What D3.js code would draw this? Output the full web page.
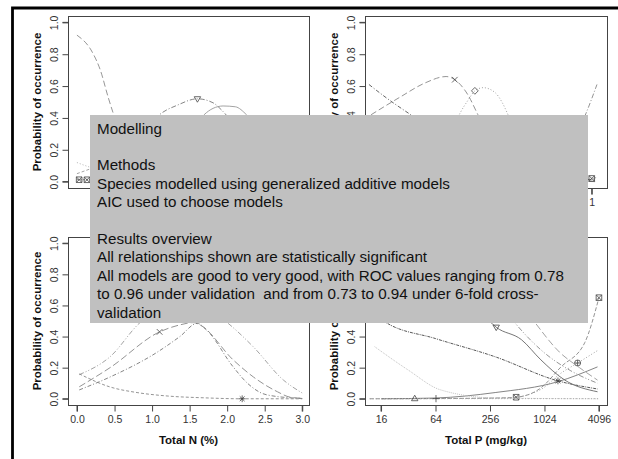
<!DOCTYPE html>
<html>
<head>
<meta charset="utf-8">
<script src="https://cdn.jsdelivr.net/npm/d3@7/dist/d3.min.js"></script>
<style>
  html, body { margin: 0; padding: 0; background: #fff; }
  svg { display: block; font-family: "Liberation Sans", Arial, sans-serif; }
</style>
</head>
<body>
<svg id="chart" width="618" height="459"></svg>
<script>
// ---- values ----
const probTicks = [0, 0.2, 0.4, 0.6, 0.8, 1.0];
const nTicks = [0, 0.5, 1, 1.5, 2, 2.5, 3];
const pTicks = [16, 64, 256, 1024, 4096];
const topRightTicks = [-4, -3, -2, -1, 0, 1];

// top-left panel (x axis hidden by the overlay)
const tlDecline = [[0, 0.92], [7, 0.81], [10.5, 0.70], [14, 0.53], [16.5, 0.42], [22, 0.24], [30, 0.12], [45, 0.05], [70, 0.02], [100, 0.01]];
const tlHumpA = [[20, 0.16], [30, 0.31], [37, 0.42], [45, 0.48], [54, 0.52], [61, 0.495], [65.5, 0.44], [75, 0.27], [85, 0.12], [100, 0.03]];
const tlHumpB = [[35, 0.05], [45, 0.18], [52, 0.33], [57, 0.42], [61, 0.46], [65.5, 0.475], [71, 0.47], [76, 0.42], [85, 0.25], [95, 0.1], [100, 0.06]];
const tlLowA = [[0, 0.12], [6, 0.09], [15, 0.06], [30, 0.04], [60, 0.02], [100, 0.01]];
const tlLowB = [[0, 0.05], [6, 0.08], [14, 0.12], [25, 0.15], [40, 0.12], [60, 0.06], [100, 0.02]];
const tlFlat = [[0, 0.012], [30, 0.01], [60, 0.008], [100, 0.006]];

// top-right panel
const trDecline = [[-4.11, 0.61], [-3.63, 0.51], [-3.15, 0.42], [-2, 0.22], [-1, 0.1], [0, 0.04], [1.1, 0.01]];
const trHumpX = [[-4.06, 0.42], [-3.4, 0.53], [-2.82, 0.62], [-2.34, 0.66], [-2.14, 0.64], [-1.84, 0.545], [-1.61, 0.42], [-1.2, 0.2], [-0.6, 0.06], [0.2, 0.01], [1.1, 0]];
const trHumpD = [[-2.6, 0.1], [-2.3, 0.25], [-2.02, 0.43], [-1.84, 0.51], [-1.68, 0.57], [-1.49, 0.59], [-1.22, 0.56], [-1.06, 0.5], [-0.92, 0.42], [-0.6, 0.2], [-0.2, 0.06], [0.5, 0.01], [1.1, 0]];
const trRise = [[-1, 0.01], [0, 0.08], [0.5, 0.22], [0.87, 0.43], [1.12, 0.61]];
const trLow = [[-4.1, 0.0], [0, 0.004], [0.8, 0.01], [1.1, 0.025]];

// bottom-left panel: Total N (%)
const nWide = [[0.03, 0.155], [0.44, 0.27], [0.84, 0.49], [1.2, 0.6], [1.6, 0.62], [2.0, 0.49], [2.35, 0.333], [2.75, 0.12], [3.0, 0.037]];
const nHumpX = [[0.03, 0.077], [0.44, 0.2], [1.1, 0.43], [1.37, 0.475], [1.55, 0.49], [1.64, 0.474], [2.08, 0.25], [2.35, 0.14], [2.67, 0.045], [2.84, 0.01], [3.0, 0.003]];
const nHumpSteep = [[0.03, 0.057], [0.44, 0.14], [1.07, 0.30], [1.37, 0.40], [1.6, 0.485], [1.73, 0.44], [2.08, 0.205], [2.27, 0.10], [2.53, 0.025], [3.0, 0.002]];
const nDecay = [[0.03, 0.16], [0.44, 0.076], [0.8, 0.04], [1.2, 0.018], [1.7, 0.006], [2.2, 0.0], [3.0, 0.0]];

// bottom-right panel: Total P (mg/kg)
const pRiseSteep = [[12, 0], [100, 0.002], [300, 0.005], [498, 0.01], [935, 0.07], [1560, 0.205], [2850, 0.36], [4096, 0.65]];
const pRiseDot = [[12, 0], [403, 0.005], [935, 0.06], [1560, 0.165], [2380, 0.23], [3950, 0.31]];
const pRiseSolid = [[16, 0], [64, 0.005], [292, 0.04], [1443, 0.11], [3950, 0.205]];
const pFallDashDot = [[13, 0.55], [18.2, 0.49], [64, 0.387], [292, 0.27], [1443, 0.115], [3950, 0.063]];
const pFallLight = [[13.6, 0.335], [31.9, 0.185], [73, 0.057], [292, 0.005], [4096, 0.0]];
const pFallV = [[100, 0.75], [200, 0.56], [300, 0.46], [570, 0.38], [935, 0.25], [1720, 0.12], [3950, 0.045]];
const pFallB = [[200, 0.8], [480, 0.49], [1000, 0.3], [2000, 0.18], [3950, 0.10]];
const pFallC = [[300, 0.85], [805, 0.49], [1500, 0.3], [2500, 0.2], [3950, 0.12]];
const pFlat = [[16, 0.001], [4096, 0.001]];

// overlay text
const noteLines = [
  "Modelling",
  "",
  "Methods",
  "Species modelled using generalized additive models",
  "AIC used to choose models",
  "",
  "Results overview",
  "All relationships shown are statistically significant",
  "All models are good to very good, with ROC values ranging from 0.78",
  "to 0.96 under validation  and from 0.73 to 0.94 under 6-fold cross-",
  "validation"
];

// ---- drawing ----
const svg = d3.select('#chart');

const yTop = d3.scaleLinear().domain([-0.04, 1.04]).range([188, 16]);
const yBot = d3.scaleLinear().domain([-0.04, 1.04]).range([405, 237]);

const panels = [
  {
    id: 'tl', x0: 68, x1: 309, y: yTop,
    x: d3.scaleLinear().domain([-4, 104]).range([68, 309]),
    ticks: null, labels: null, title: null,
    series: [
      { data: tlDecline, stroke: '#8a8a8a', dash: '6,3' },
      { data: tlHumpA, stroke: '#777', dash: '5,2,1,2', mark: 'tridown', at: [54] },
      { data: tlHumpB, stroke: '#999', dash: null },
      { data: tlLowA, stroke: '#aaa', dash: '1,2' },
      { data: tlLowB, stroke: '#999', dash: '3,2' },
      { data: tlFlat, stroke: '#777', dash: '2,1', mark: 'boxx', at: [1, 4.5] }
    ]
  },
  {
    id: 'tr', x0: 365, x1: 607, y: yTop,
    x: d3.scaleLinear().domain([-4.2, 1.35]).range([365, 607]),
    ticks: topRightTicks, labels: d => d3.format('d')(d), title: null,
    series: [
      { data: trDecline, stroke: '#555', dash: '4,2,1,2' },
      { data: trHumpX, stroke: '#888', dash: '6,3', mark: 'x', at: [-2.14] },
      { data: trHumpD, stroke: '#999', dash: '1,2', mark: 'diamond', at: [-1.68] },
      { data: trRise, stroke: '#888', dash: '5,2,1,2' },
      { data: trLow, stroke: '#888', dash: '1,1', mark: 'boxx', at: [1.0] }
    ]
  },
  {
    id: 'bl', x0: 68, x1: 309, y: yBot,
    x: d3.scaleLinear().domain([-0.12, 3.09]).range([68, 309]),
    ticks: nTicks, labels: d3.format('.1f'), title: 'Total N (%)',
    series: [
      { data: nWide, stroke: '#999', dash: '5,2,1,2,1,2' },
      { data: nHumpX, stroke: '#888', dash: '7,3', mark: 'x', at: [1.1] },
      { data: nHumpSteep, stroke: '#777', dash: '4,2,1,2' },
      { data: nDecay, stroke: '#888', dash: '3,2', mark: 'star', at: [2.2] }
    ]
  },
  {
    id: 'br', x0: 365, x1: 607, y: yBot,
    x: d3.scaleLog().base(2).domain([10.64, 5028]).range([365, 607]),
    ticks: pTicks, labels: d => String(d), title: 'Total P (mg/kg)',
    series: [
      { data: pRiseSteep, stroke: '#888', dash: '4,2', mark: 'boxx', at: [498, 4096] },
      { data: pRiseDot, stroke: '#999', dash: '1,2', mark: 'circplus', at: [2380] },
      { data: pRiseSolid, stroke: '#777', dash: null },
      { data: pFallDashDot, stroke: '#444', dash: '3,1,1,1', mark: 'star', at: [1443] },
      { data: pFallLight, stroke: '#bbb', dash: '1,1' },
      { data: pFallV, stroke: '#666', dash: null, mark: 'tridown', at: [300] },
      { data: pFallB, stroke: '#888', dash: '5,2,1,2,1,2' },
      { data: pFallC, stroke: '#999', dash: '7,3' },
      { data: pFlat, stroke: '#aaa', dash: '1,2', mark: 'tri', at: [37.7] },
      { data: pFlat, stroke: 'none', dash: null, mark: 'plus', at: [64.8] }
    ]
  }
];

const markPaths = {
  tri: 'M0,-3.4L3.2,2.1L-3.2,2.1Z',
  tridown: 'M0,3.4L3.2,-2.1L-3.2,-2.1Z',
  x: 'M-2.8,-2.8L2.8,2.8M-2.8,2.8L2.8,-2.8',
  plus: 'M-3.6,0H3.6M0,-3.6V3.6',
  diamond: 'M0,-3.4L3.4,0L0,3.4L-3.4,0Z',
  boxx: 'M-2.8,-2.8H2.8V2.8H-2.8ZM-2.8,-2.8L2.8,2.8M-2.8,2.8L2.8,-2.8',
  circplus: 'M-3,0A3,3 0 1,0 3,0A3,3 0 1,0 -3,0ZM-3,0H3M0,-3V3',
  star: 'M-3.4,0H3.4M0,-3.4V3.4M-2.4,-2.4L2.4,2.4M-2.4,2.4L2.4,-2.4'
};

function interpY(data, xv, xs) {
  // y on the drawn polyline at a data x (used for marker placement only)
  for (let i = 1; i < data.length; i++) {
    const a = data[i - 1], b = data[i];
    if (xv >= a[0] && xv <= b[0]) {
      const t = (xs(xv) - xs(a[0])) / (xs(b[0]) - xs(a[0]));
      return a[1] + t * (b[1] - a[1]);
    }
  }
  return data[data.length - 1][1];
}

panels.forEach(p => {
  const g = svg.append('g').attr('class', 'panel-' + p.id);
  const yr = p.y.range();

  g.append('clipPath').attr('id', 'clip-' + p.id)
    .append('rect')
    .attr('x', p.x0).attr('y', yr[1])
    .attr('width', p.x1 - p.x0).attr('height', yr[0] - yr[1]);

  const plot = g.append('g').attr('clip-path', `url(#clip-${p.id})`);

  const line = d3.line()
    .x(d => p.x(d[0]))
    .y(d => p.y(d[1]))
    .curve(d3.curveMonotoneX);

  p.series.forEach(s => {
    if (s.stroke !== 'none') {
      plot.append('path')
        .attr('d', line(s.data))
        .attr('fill', 'none')
        .attr('stroke', s.stroke)
        .attr('stroke-width', 0.9)
        .attr('stroke-dasharray', s.dash);
    }
    if (s.mark) {
      s.at.forEach(xv => {
        plot.append('path')
          .attr('d', markPaths[s.mark])
          .attr('transform', `translate(${p.x(xv)},${p.y(interpY(s.data, xv, p.x))})`)
          .attr('fill', 'none')
          .attr('stroke', '#444')
          .attr('stroke-width', 0.8);
      });
    }
  });

  // frame
  g.append('rect')
    .attr('x', p.x0 + 0.5).attr('y', yr[1] + 0.5)
    .attr('width', p.x1 - p.x0).attr('height', yr[0] - yr[1])
    .attr('fill', 'none').attr('stroke', '#444').attr('stroke-width', 1);

  // y axis (R style: labels parallel to axis)
  const yAxis = g.append('g').attr('transform', `translate(${p.x0 + 0.5},0)`)
    .call(d3.axisLeft(p.y).tickValues(probTicks).tickSize(6).tickPadding(0).tickFormat(d3.format('.1f')));
  yAxis.select('.domain').attr('stroke', '#444').attr('d', `M-6,${p.y(0)}H0V${p.y(1)}H-6`);
  yAxis.selectAll('.tick line').attr('stroke', '#444');
  yAxis.selectAll('.tick text')
    .attr('x', null).attr('dy', null)
    .attr('transform', 'translate(-11,0) rotate(-90)')
    .attr('text-anchor', 'middle')
    .attr('fill', '#333')
    .attr('font-size', 10.5)
    .attr('font-family', '"Liberation Sans", Arial, sans-serif');

  g.append('text')
    .attr('transform', `translate(${p.x0 - 27},${(yr[0] + yr[1]) / 2}) rotate(-90)`)
    .attr('text-anchor', 'middle')
    .attr('font-weight', 'bold')
    .attr('font-size', 11.5)
    .attr('fill', '#111')
    .text('Probability of occurrence');

  // x axis
  if (p.ticks) {
    const xAxis = g.append('g').attr('transform', `translate(0,${yr[0] + 0.5})`)
      .call(d3.axisBottom(p.x).tickValues(p.ticks).tickSize(6).tickPadding(4).tickFormat(p.labels));
    xAxis.select('.domain').attr('stroke', '#444')
      .attr('d', `M${p.x(p.ticks[0])},6V0H${p.x(p.ticks[p.ticks.length - 1])}V6`);
    xAxis.selectAll('.tick line').attr('stroke', '#444');
    xAxis.selectAll('.tick text')
      .attr('fill', '#333')
      .attr('font-size', 10.5)
      .attr('font-family', '"Liberation Sans", Arial, sans-serif');
  }
  if (p.title) {
    g.append('text')
      .attr('x', (p.x0 + p.x1) / 2)
      .attr('y', yr[0] + 39)
      .attr('text-anchor', 'middle')
      .attr('font-weight', 'bold')
      .attr('font-size', 11.5)
      .attr('fill', '#111')
      .text(p.title);
  }
});

// outer frame (only top and left edges fall inside the window)
svg.append('path')
  .attr('d', 'M12.5,459V8H618')
  .attr('fill', 'none')
  .attr('stroke', '#000')
  .attr('stroke-width', 2.8);

// overlay note box
const note = svg.append('g').attr('class', 'note');
note.append('rect')
  .attr('x', 90).attr('y', 115)
  .attr('width', 498).attr('height', 208)
  .attr('fill', '#c0c0c0');

note.selectAll('text')
  .data(noteLines)
  .join('text')
  .attr('x', 97)
  .attr('y', (d, i) => 133.5 + i * 18.4)
  .attr('font-size', 15.2)
  .attr('fill', '#111')
  .style('white-space', 'pre')
  .text(d => d);
</script>
</body>
</html>
